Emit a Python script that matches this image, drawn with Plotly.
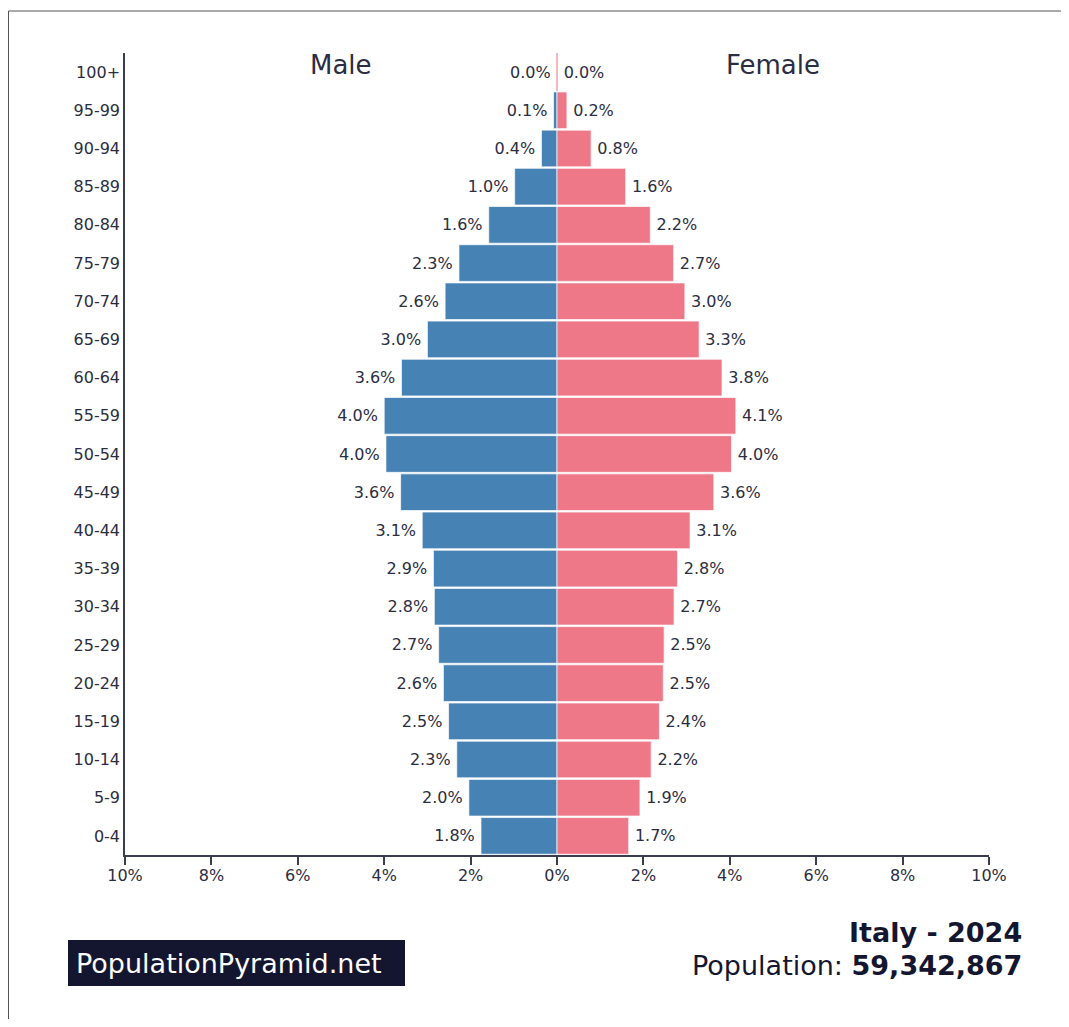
import plotly.graph_objects as go

age_groups = ["0-4", "5-9", "10-14", "15-19", "20-24", "25-29", "30-34", "35-39",
              "40-44", "45-49", "50-54", "55-59", "60-64", "65-69", "70-74", "75-79",
              "80-84", "85-89", "90-94", "95-99", "100+"]
male_pct = [1.76, 2.04, 2.32, 2.51, 2.63, 2.74, 2.84, 2.86, 3.12, 3.62, 3.96,
            4.00, 3.60, 3.00, 2.59, 2.27, 1.58, 0.98, 0.36, 0.08, 0.004]
female_pct = [1.66, 1.92, 2.18, 2.37, 2.46, 2.48, 2.71, 2.79, 3.08, 3.63, 4.04,
              4.14, 3.82, 3.29, 2.96, 2.70, 2.16, 1.59, 0.79, 0.23, 0.01]
tick_vals = [-10, -8, -6, -4, -2, 0, 2, 4, 6, 8, 10]
tick_text = ["10%", "8%", "6%", "4%", "2%", "0%", "2%", "4%", "6%", "8%", "10%"]
country = "Italy"
year = 2024
population = 59342867

MALE_COLOR = "#4682b4"
FEMALE_COLOR = "#ee7888"
TEXT_COLOR = "#2b2d42"
FONT = "DejaVu Sans"
THIN = "\u2009"

fig = go.Figure()
fig.add_trace(go.Bar(
    y=age_groups, x=[-v for v in male_pct], orientation="h",
    marker=dict(color=MALE_COLOR, line=dict(color="rgba(255,255,255,0.7)", width=1)),
    text=[f"{v:.1f}%{THIN}" for v in male_pct], textposition="outside",
    textfont=dict(size=16, color=TEXT_COLOR, family=FONT),
    constraintext="none", cliponaxis=False, name="Male", hoverinfo="skip",
))
fig.add_trace(go.Bar(
    y=age_groups, x=female_pct, orientation="h",
    marker=dict(color=FEMALE_COLOR, line=dict(color="rgba(255,255,255,0.7)", width=1)),
    text=[f"{THIN}{v:.1f}%" for v in female_pct], textposition="outside",
    textfont=dict(size=16, color=TEXT_COLOR, family=FONT),
    constraintext="none", cliponaxis=False, name="Female", hoverinfo="skip",
))

W, H = 1053, 1011
L, R, T, B = 117, 72, 45, 164
pw, ph = W - L - R, H - T - B


def px(fx):
    return (fx - L) / pw


def py(fy):
    return (H - B - fy) / ph


fig.update_layout(
    width=W, height=H, autosize=False,
    margin=dict(l=L, r=R, t=T, b=B, pad=0),
    barmode="relative", bargap=0.04,
    plot_bgcolor="white", paper_bgcolor="white",
    showlegend=False,
    font=dict(family=FONT, color=TEXT_COLOR, size=16),
    xaxis=dict(
        range=[-10, 10], tickvals=tick_vals, ticktext=tick_text,
        ticks="outside", ticklen=8, tickwidth=1.5, tickcolor="#3a3c50",
        showline=True, linewidth=2, linecolor="#3a3c50",
        showgrid=False, zeroline=False, fixedrange=True,
        tickfont=dict(size=16, color=TEXT_COLOR), ticklabelstandoff=-3,
    ),
    yaxis=dict(
        type="category", categoryorder="array", categoryarray=age_groups,
        range=[-0.5, len(age_groups) - 0.5],
        showline=True, linewidth=1.5, linecolor="#3a3c50",
        ticks="", showgrid=False, zeroline=False, fixedrange=True,
        tickfont=dict(size=16, color=TEXT_COLOR),
    ),
    shapes=[
        # outer frame
        dict(type="rect", xref="paper", yref="paper",
             x0=px(0.5), x1=px(W + 40), y0=py(H + 40), y1=py(3),
             line=dict(color="#555555", width=1), fillcolor="rgba(0,0,0,0)", layer="below"),
        # outer ticks of the y axis domain
        dict(type="line", xref="x", yref="paper", xsizemode="pixel", xanchor=-10,
             x0=-8, x1=0, y0=1, y1=1, line=dict(color="#3a3c50", width=1.5)),
        dict(type="line", xref="x", yref="paper", xsizemode="pixel", xanchor=-10,
             x0=-9, x1=0, y0=0, y1=0, line=dict(color="#3a3c50", width=2)),
        # thin centre line of the 100+ row
        dict(type="line", xref="x", yref="y", x0=0, x1=0, y0=19.5, y1=20.5,
             line=dict(color=FEMALE_COLOR, width=1)),
        # brand box
        dict(type="rect", xref="paper", yref="paper",
             x0=px(60), x1=px(397), y0=py(978), y1=py(932),
             fillcolor="#141630", line=dict(width=0)),
    ],
    annotations=[
        dict(text="Male", x=-5, xref="x", y=py(57), yref="paper",
             showarrow=False, font=dict(size=26, color=TEXT_COLOR),
             xanchor="center", yanchor="middle"),
        dict(text="Female", x=5, xref="x", y=py(57), yref="paper",
             showarrow=False, font=dict(size=26, color=TEXT_COLOR),
             xanchor="center", yanchor="middle"),
        dict(text=f"<b>{country} - {year}</b>", x=px(1016), xref="paper",
             y=py(924), yref="paper", showarrow=False,
             font=dict(size=27, color="#141630"), xanchor="right", yanchor="middle"),
        dict(text=f"Population: <b>{population:,}</b>", x=px(1016), xref="paper",
             y=py(957), yref="paper", showarrow=False,
             font=dict(size=27, color="#141630"), xanchor="right", yanchor="middle"),
        dict(text="PopulationPyramid.net", x=px(66), xref="paper",
             y=py(955), yref="paper", showarrow=False,
             font=dict(size=27, color="white"), xanchor="left", yanchor="middle"),
    ],
)

fig.write_html("out.html")
